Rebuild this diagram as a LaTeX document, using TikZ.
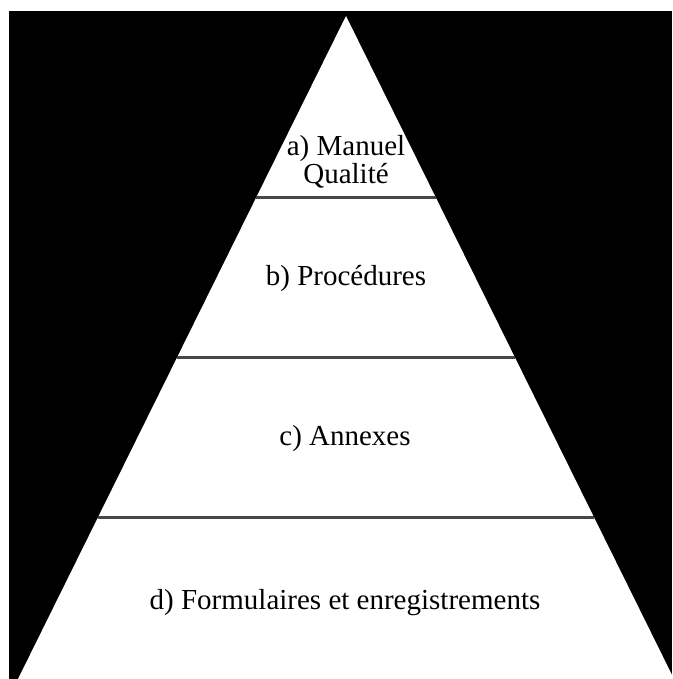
\documentclass[tikz,border=0pt]{standalone}
\usepackage{fontspec}
\setmainfont{Liberation Serif}
\begin{document}
\begin{tikzpicture}[x=1pt,y=-1pt,
  lbl/.style={font=\fontsize{29}{27}\selectfont, inner sep=0pt, anchor=base},
  divider/.style={draw=black!72, line width=3pt}]
\useasboundingbox (0,0) rectangle (672,679);
\fill[white] (0,0) rectangle (672,679);
\fill[black] (9,11) rectangle (672,679);
\begin{scope}
  \clip (9,11) rectangle (672,679);
  \fill[white] (346,16) -- (18,679) -- (674,679) -- cycle;
\end{scope}
% divider end points on the triangle sides
\coordinate (l1) at (256.4,197);
\coordinate (r1) at (435.6,197);
\coordinate (l2) at (177.2,357);
\coordinate (r2) at (514.8,357);
\coordinate (l3) at (98,517);
\coordinate (r3) at (594,517);
\draw[divider] (l1) -- (r1);
\draw[divider] (l2) -- (r2);
\draw[divider] (l3) -- (r3);
% labels
\node[lbl] (a1) at (346,156) {a) Manuel};
\node[lbl] (a2) at (346,183) {Qualité};
\node[lbl] (b) at (346,285) {b) Procédures};
\node[lbl] (c) at (345,445) {c) Annexes};
\node[lbl] (d) at (345,609) {d) Formulaires et enregistrements};
\end{tikzpicture}
\end{document}
